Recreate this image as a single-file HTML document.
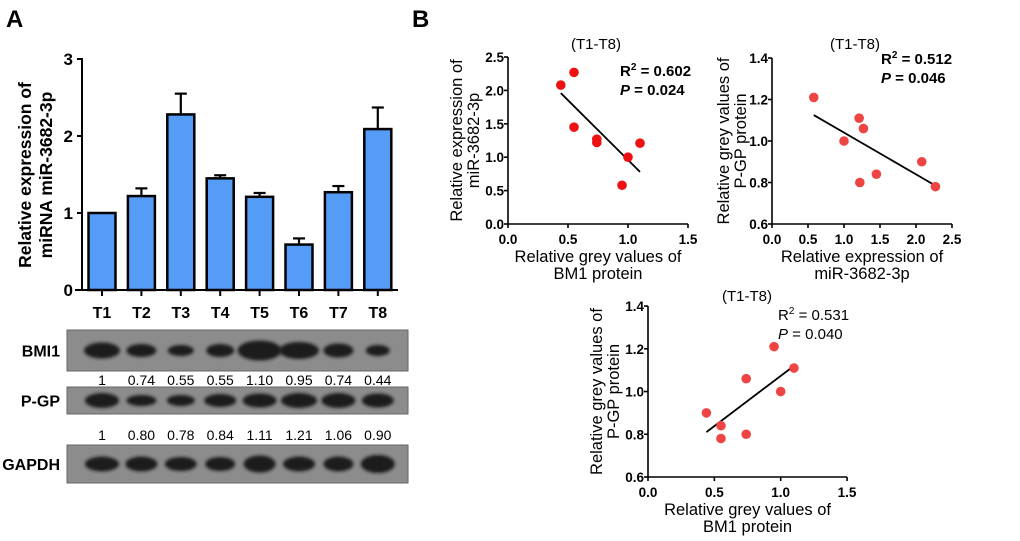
<!DOCTYPE html>
<html><head><meta charset="utf-8"><style>
html,body{margin:0;padding:0;background:#fff;}
svg{display:block;font-family:"Liberation Sans",Arial,sans-serif;}
</style></head><body>
<svg id="fig" width="1020" height="541" viewBox="0 0 1020 541">
<defs><filter id="blur" x="-20%" y="-50%" width="140%" height="200%"><feGaussianBlur stdDeviation="1.6"/></filter></defs>
<text x="6" y="27" font-size="24" font-weight="bold">A</text>
<text x="412" y="27" font-size="24" font-weight="bold">B</text>
<g id="bar"></g><g id="blot"></g><g id="s1"></g><g id="s2"></g><g id="s3"></g>
</svg>
<script>
const NS="http://www.w3.org/2000/svg";
function mk(p,t,a,txt){const e=document.createElementNS(NS,t);for(const k in a)e.setAttribute(k,a[k]);if(txt!==undefined)e.textContent=txt;p.appendChild(e);return e;}

// ---- bar chart data
const barCats=["T1","T2","T3","T4","T5","T6","T7","T8"];
const barVals=[1,1.22,2.28,1.45,1.21,0.59,1.27,2.09];
const barErr=[0,0.1,0.27,0.04,0.05,0.08,0.08,0.28];
const barTicks=[0,1,2,3];
// ---- blot data
const bmiVals=["1","0.74","0.55","0.55","1.10","0.95","0.74","0.44"];
const pgpVals=["1","0.80","0.78","0.84","1.11","1.21","1.06","0.90"];
// ---- scatter data
const s1x=[1,0.74,0.55,0.55,1.10,0.95,0.74,0.44];
const s1y=[1,1.22,2.27,1.45,1.21,0.58,1.27,2.08];
const s1fit=[[0.44,1.96],[1.10,0.78]];
const s2x=[1,1.22,2.27,1.45,1.21,0.58,1.27,2.08];
const s2y=[1,0.80,0.78,0.84,1.11,1.21,1.06,0.90];
const s2fit=[[0.58,1.125],[2.27,0.785]];
const s3x=[1,0.74,0.55,0.55,1.10,0.95,0.74,0.44];
const s3y=[1,0.80,0.78,0.84,1.11,1.21,1.06,0.90];
const s3fit=[[0.44,0.81],[1.10,1.12]];

// bar chart
(function(){
 const g=document.getElementById('bar');
 const y=v=>290-v*77, x=i=>102+i*39.4;
 let e=mk(g,'line',{x1:82,y1:58,x2:82,y2:290,stroke:'#000','stroke-width':2});
 
 e=mk(g,'line',{x1:75,y1:290,x2:398,y2:290,stroke:'#000','stroke-width':2});
 
 barTicks.forEach(t=>{mk(g,'line',{x1:77,x2:82,y1:y(t),y2:y(t),stroke:'#000','stroke-width':2});
  e=mk(g,'text',{x:73,y:y(t)+6,'font-size':17,'font-weight':'bold','text-anchor':'end'},t);
  });
 barVals.forEach((v,i)=>{
  const cx=x(i);
  if(barErr[i]>0){mk(g,'line',{x1:cx,x2:cx,y1:y(v),y2:y(v+barErr[i]),stroke:'#000','stroke-width':2.2});
   mk(g,'line',{x1:cx-6,x2:cx+6,y1:y(v+barErr[i]),y2:y(v+barErr[i]),stroke:'#000','stroke-width':2.2});}
  e=mk(g,'rect',{x:cx-13.5,y:y(v),width:27,height:v*77,fill:'#559cf7',stroke:'#000','stroke-width':2.5});
  
  mk(g,'line',{x1:cx,x2:cx,y1:290,y2:296,stroke:'#000','stroke-width':2});
  e=mk(g,'text',{x:cx,y:318,'font-size':16,'font-weight':'bold','text-anchor':'middle'},barCats[i]);
  
 });
 e=mk(g,'text',{transform:'translate(31,175) rotate(-90)','font-size':17.5,'font-weight':'bold','text-anchor':'middle'});
 
 mk(e,'tspan',{x:0,y:0},'Relative expression of');mk(e,'tspan',{x:0,y:21},'miRNA miR-3682-3p');
})();

// blots
(function(){
 const g=document.getElementById('blot');
 const lx=i=>102+i*39.4;
 const rows=[{n:'BMI1',y:330,h:41,w:[36,30,26,28,44,40,30,24],th:[12,9,7,9,16,13,10,7]},
  {n:'P-GP',y:387,h:27,w:[34,30,28,32,34,36,34,32],th:[11,7,7,9,10,11,11,10]},
  {n:'GAPDH',y:445,h:38,w:[34,32,32,30,32,32,30,34],th:[11,11,10,10,13,11,11,14]}];
 rows.forEach(r=>{
  let e=mk(g,'rect',{x:67,y:r.y,width:341,height:r.h,fill:'#8c8c8c',stroke:'#666','stroke-width':1});
  
  r.w.forEach((w,i)=>mk(g,'ellipse',{cx:lx(i),cy:r.y+r.h/2,rx:w/2,ry:r.th[i]/2+2,fill:'#1a1a1a',filter:'url(#blur)'}));
  e=mk(g,'text',{x:60,y:r.y+r.h/2+6,'font-size':16,'font-weight':'bold','text-anchor':'end'},r.n);
  
 });
 bmiVals.forEach((v,i)=>{const e=mk(g,'text',{x:lx(i),y:385,'font-size':14,'text-anchor':'middle'},v);
  });
 pgpVals.forEach((v,i)=>{const e=mk(g,'text',{x:lx(i),y:440,'font-size':14,'text-anchor':'middle'},v);
  });
})();

function scatter(id,o){
 const g=document.getElementById(id);
 const X=v=>o.x0+(v-o.xmin)*o.xs, Y=v=>o.y0-(v-o.ymin)*o.ys;
 const xr=X(o.xt[o.xt.length-1]), yt=Y(o.yt[o.yt.length-1]);
 let e=mk(g,'line',{x1:o.x0,y1:yt,x2:o.x0,y2:o.y0,stroke:'#000','stroke-width':1.6});
 
 e=mk(g,'line',{x1:o.x0,y1:o.y0,x2:xr,y2:o.y0,stroke:'#000','stroke-width':1.6});
 
 o.yt.forEach(t=>{mk(g,'line',{x1:o.x0-4,x2:o.x0,y1:Y(t),y2:Y(t),stroke:'#000','stroke-width':1.6});
  e=mk(g,'text',{x:o.x0-4,y:Y(t)+5,'font-size':13.5,'font-weight':'bold','text-anchor':'end'},t.toFixed(1));
  });
 o.xt.forEach(t=>{mk(g,'line',{x1:X(t),x2:X(t),y1:o.y0,y2:o.y0+4,stroke:'#000','stroke-width':1.6});
  e=mk(g,'text',{x:X(t),y:o.y0+20,'font-size':13.5,'font-weight':'bold','text-anchor':'middle'},t.toFixed(1));
  });
 e=mk(g,'line',{x1:X(o.fit[0][0]),y1:Y(o.fit[0][1]),x2:X(o.fit[1][0]),y2:Y(o.fit[1][1]),stroke:'#000','stroke-width':1.8});
 
 o.xs_.forEach((v,i)=>{const c=mk(g,'circle',{cx:X(v),cy:Y(o.ys_[i]),r:4.8,fill:o.col});
  });
 e=mk(g,'text',{x:o.tx,y:o.ty,'font-size':15,'text-anchor':'middle'},'(T1-T8)');
 
 const fw=o.bold?'bold':'normal';
 e=mk(g,'text',{x:o.rx,y:o.ry,'font-size':15,'font-weight':fw});
 
 mk(e,'tspan',{},'R');mk(e,'tspan',{dy:-6,'font-size':10},'2');mk(e,'tspan',{dy:6},' = '+o.r2);
 e=mk(g,'text',{x:o.rx,y:o.ry+19,'font-size':15,'font-weight':fw});
 
 mk(e,'tspan',{'font-style':'italic'},'P');mk(e,'tspan',{},' = '+o.p);
 e=mk(g,'text',{transform:'translate('+o.ylx+','+((yt+o.y0)/2)+') rotate(-90)','font-size':16.5,'text-anchor':'middle'});
 
 mk(e,'tspan',{x:0,y:0},o.yl[0]);mk(e,'tspan',{x:0,y:17},o.yl[1]);
 const mx=(o.x0+xr)/2;
 e=mk(g,'text',{'font-size':16.5,'text-anchor':'middle'});
 
 mk(e,'tspan',{x:mx,y:o.y0+38},o.xl[0]);mk(e,'tspan',{x:mx,y:o.y0+55},o.xl[1]);
}
scatter('s1',{x0:508,y0:224,xmin:0,ymin:0,xs:120,ys:66.8,xt:[0,0.5,1,1.5],yt:[0,0.5,1,1.5,2,2.5],
 xs_:s1x,ys_:s1y,fit:s1fit,col:'#ee1111',tx:596,ty:49,rx:620,ry:76,r2:'0.602',p:'0.024',bold:true,ylx:462,
 yl:['Relative expression of','miR-3682-3p'],xl:['Relative grey values of','BM1 protein']});
scatter('s2',{x0:772,y0:224,xmin:0,ymin:0.6,xs:72,ys:207.5,xt:[0,0.5,1,1.5,2,2.5],yt:[0.6,0.8,1.0,1.2,1.4],
 xs_:s2x,ys_:s2y,fit:s2fit,col:'#ef4444',tx:855,ty:49,rx:881,ry:64,r2:'0.512',p:'0.046',bold:true,ylx:729,
 yl:['Relative grey values of','P-GP protein'],xl:['Relative expression of','miR-3682-3p']});
scatter('s3',{x0:648,y0:477,xmin:0,ymin:0.6,xs:132.7,ys:213.7,xt:[0,0.5,1,1.5],yt:[0.6,0.8,1.0,1.2,1.4],
 xs_:s3x,ys_:s3y,fit:s3fit,col:'#ef4444',tx:747,ty:301,rx:778,ry:320,r2:'0.531',p:'0.040',bold:false,ylx:602,
 yl:['Relative grey values of','P-GP protein'],xl:['Relative grey values of','BM1 protein']});
</script>
</body></html>
